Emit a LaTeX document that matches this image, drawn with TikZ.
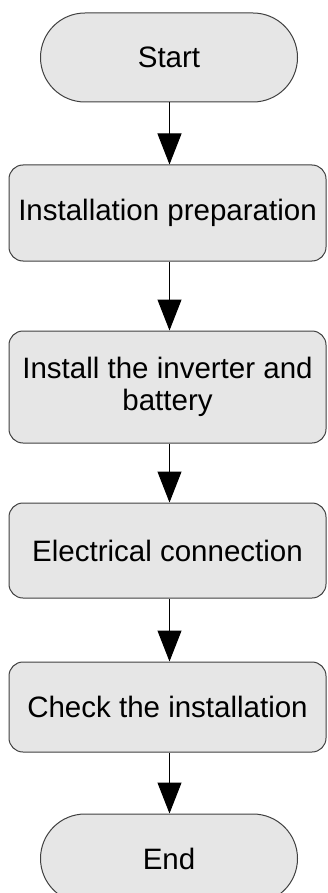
\documentclass[tikz,border=0pt]{standalone}
\usepackage{fontspec}
\setmainfont{Liberation Sans}
\usetikzlibrary{arrows.meta}
\definecolor{boxfill}{HTML}{E6E6E6}
\definecolor{boxline}{HTML}{404040}
\begin{document}
\begin{tikzpicture}[x=1pt,y=1pt,
  base/.style={draw=boxline, fill=boxfill, line width=1pt, inner sep=0pt, align=center,
    font=\fontsize{29.5}{32}\selectfont},
  term/.style={base, minimum width=257pt, minimum height=89pt, rounded corners=44.5pt},
  proc/.style={base, minimum width=317pt, rounded corners=14pt},
  flow/.style={line width=1pt, -{Triangle[width=24pt,length=31pt]}}]
\useasboundingbox (0,0) rectangle (328,-893);
\clip (0,0) rectangle (328,-893);
\node[term] (start) at (169,-57.5) {Start};
\node[proc, minimum height=96pt] (prep) at (167.5,-213) {Installation preparation};
\node[proc, minimum height=112pt] (inst) at (167.5,-387) {Install the inverter and\\battery};
\node[proc, minimum height=95pt] (elec) at (167.5,-550.5) {Electrical connection};
\node[proc, minimum height=90pt] (check) at (167.5,-707) {Check the installation};
\node[term] (end) at (169,-858.5) {End};
\draw[flow] (start.south -| 169.5,0) -- (prep.north -| 169.5,0);
\draw[flow] (prep.south -| 169.5,0) -- (inst.north -| 169.5,0);
\draw[flow] (inst.south -| 169.5,0) -- (elec.north -| 169.5,0);
\draw[flow] (elec.south -| 169.5,0) -- (check.north -| 169.5,0);
\draw[flow] (check.south -| 169.5,0) -- (end.north -| 169.5,0);
\end{tikzpicture}
\end{document}
